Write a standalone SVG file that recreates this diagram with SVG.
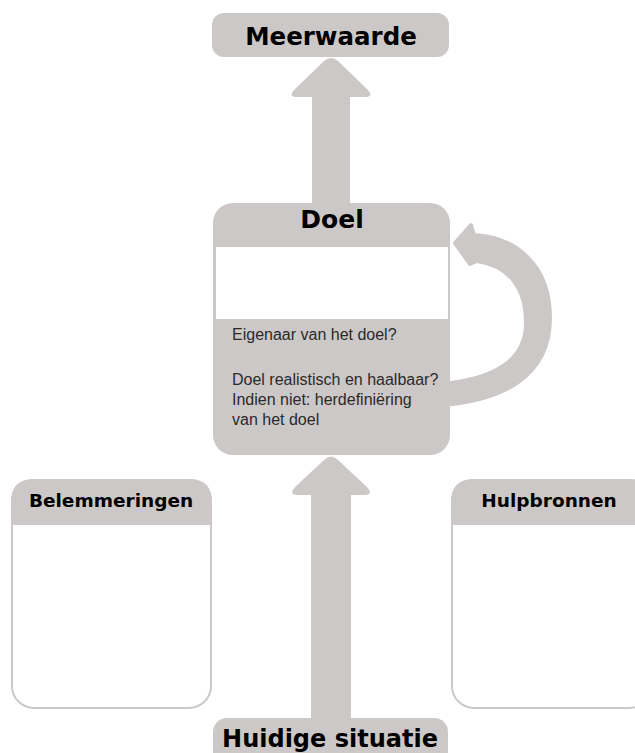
<svg xmlns="http://www.w3.org/2000/svg" width="635" height="753" viewBox="0 0 635 753">
<style>
.g{fill:#cdc8c8}
.t{font-family:"DejaVu Sans","Liberation Sans",sans-serif;font-weight:bold;fill:#000;text-anchor:middle}
.b{font-family:"Liberation Sans","DejaVu Sans",sans-serif;font-size:16px;fill:#2a2a2a}
.box{fill:#fff;stroke:#cdc8c8;stroke-width:2}
</style>
<rect width="635" height="753" fill="#fff"/>
<g id="connectors">
<path class="g" d="M 312,204 L 312,97 L 297,97 Q 288,97 294,90 L 324,61 Q 331,55 338,61 L 368,90 Q 374,97 365,97 L 350,97 L 350,204 Z"/>
<path class="g" d="M 311,719 L 311,495 L 298,495 Q 288,495 295,487 L 324,460 Q 331,453 338,460 L 367,487 Q 374,495 364,495 L 351,495 L 351,719 Z"/>
<path class="g" stroke="#cdc8c8" stroke-width="4" stroke-linejoin="round" d="M 440,384 C 493,380 526,361 526,323 C 526,290 511,266 477,261 L 470,264 L 455,243 L 471,225 L 474,235 C 514,237 550,263 550,318 C 550,378 500,401 440,405 Z"/>
</g>
<g id="meerwaarde">
<rect class="g" x="212" y="13" width="237" height="44" rx="12"/>
<text class="t" x="331" y="45" font-size="24.5">Meerwaarde</text>
</g>
<g id="doel">
<rect class="g" x="213" y="203" width="237" height="252" rx="20"/>
<rect x="216" y="247" width="232" height="72" fill="#fff"/>
<text class="t" x="332" y="228" font-size="25">Doel</text>
<text class="b" x="232" y="340">Eigenaar van het doel?</text>
<text class="b" x="232" y="385">Doel realistisch en haalbaar?</text>
<text class="b" x="232" y="405">Indien niet: herdefiniëring</text>
<text class="b" x="232" y="425">van het doel</text>
</g>
<g id="huidige-situatie">
<rect class="g" x="213" y="718" width="235" height="60" rx="14"/>
<text class="t" x="330" y="747" font-size="24">Huidige situatie</text>
</g>
<g id="belemmeringen">
<rect class="box" x="12" y="480" width="199" height="228" rx="22"/>
<path class="g" d="M 11,525 L 11,502 Q 11,479 34,479 L 189,479 Q 212,479 212,502 L 212,525 Z"/>
<text class="t" x="111" y="507" font-size="18.5">Belemmeringen</text>
</g>
<g id="hulpbronnen">
<rect class="box" x="452" y="480" width="199" height="228" rx="22"/>
<path class="g" d="M 451,525 L 451,502 Q 451,479 474,479 L 629,479 Q 652,479 652,502 L 652,525 Z"/>
<text class="t" x="549" y="507" font-size="18.5">Hulpbronnen</text>
</g>
</svg>
